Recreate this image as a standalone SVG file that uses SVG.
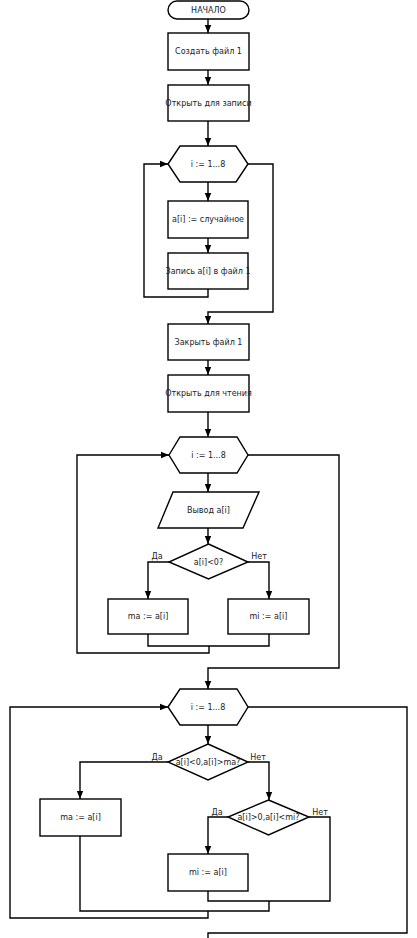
<svg xmlns="http://www.w3.org/2000/svg" width="417" height="938" viewBox="0 0 417 938">
<style>
.s{fill:#fff;stroke:#000;stroke-width:1.4}
.c{fill:none;stroke:#000;stroke-width:1.4;stroke-linejoin:miter}
.t{font-family:"DejaVu Sans",sans-serif;font-size:8px;fill:#222;text-anchor:middle;dominant-baseline:central}
.l{font-family:"DejaVu Sans",sans-serif;font-size:8px;fill:#222;text-anchor:middle}
</style>
<defs>
<marker id="a" viewBox="0 0 8 8" refX="8" refY="4" markerWidth="8" markerHeight="8" markerUnits="userSpaceOnUse" orient="auto">
<path d="M0,0.8 L8,4 L0,7.2 Z" fill="#000"/>
</marker>
</defs>
<rect width="417" height="938" fill="#fff"/>
<g id="connectors">
<path class="c" marker-end="url(#a)" d="M208,19 V33"/>
<path class="c" marker-end="url(#a)" d="M208,70 V85"/>
<path class="c" marker-end="url(#a)" d="M208,121 V146"/>
<path class="c" marker-end="url(#a)" d="M208,182 V201"/>
<path class="c" marker-end="url(#a)" d="M208,238 V253"/>
<path class="c" marker-end="url(#a)" d="M208,289 V297 H144 V164 H168"/>
<path class="c" marker-end="url(#a)" d="M248,164 H273 V312 H208 V324"/>
<path class="c" marker-end="url(#a)" d="M208,360 V375"/>
<path class="c" marker-end="url(#a)" d="M208,412 V437"/>
<path class="c" marker-end="url(#a)" d="M208,473 V492"/>
<path class="c" marker-end="url(#a)" d="M208,528 V544"/>
<path class="c" marker-end="url(#a)" d="M169,562 H148 V599"/>
<path class="c" marker-end="url(#a)" d="M248,562 H269 V599"/>
<path class="c" d="M148,634 V646 H269 V634"/>
<path class="c" marker-end="url(#a)" d="M209,646 V653 H77 V455 H169"/>
<path class="c" marker-end="url(#a)" d="M248,455 H339 V668 H208 V689"/>
<path class="c" marker-end="url(#a)" d="M208,725 V744"/>
<path class="c" marker-end="url(#a)" d="M168,762 H80 V799"/>
<path class="c" marker-end="url(#a)" d="M248,762 H269 V800"/>
<path class="c" marker-end="url(#a)" d="M228,817 H208 V854"/>
<path class="c" d="M309,817 H330 V901 H208 V891"/>
<path class="c" d="M80,836 V911 H269 V901"/>
<path class="c" marker-end="url(#a)" d="M208,911 V918 H10 V707 H168"/>
<path class="c" d="M248,707 H407 V933 H208 V938"/>
</g>
<g id="start"><rect class="s" x="168" y="1" width="81" height="18" rx="9"/><text class="t" x="208.5" y="10">НАЧАЛО</text></g>
<g id="create"><rect class="s" x="168" y="33" width="81" height="37"/><text class="t" x="208.5" y="51.5">Создать файл 1</text></g>
<g id="openw"><rect class="s" x="168" y="85" width="81" height="36"/><text class="t" x="208.5" y="103">Открыть для записи</text></g>
<g id="loop1"><path class="s" d="M168,164 L180,146 H236 L248,164 L236,182 H180 Z"/><text class="t" x="208" y="164">i := 1...8</text></g>
<g id="rand"><rect class="s" x="168" y="201" width="80" height="37"/><text class="t" x="208" y="219.5">a[i] := случайное</text></g>
<g id="write"><rect class="s" x="168" y="253" width="80" height="36"/><text class="t" x="208" y="271">Запись a[i] в файл 1</text></g>
<g id="close"><rect class="s" x="168" y="324" width="81" height="36"/><text class="t" x="208.5" y="342">Закрыть файл 1</text></g>
<g id="openr"><rect class="s" x="168" y="375" width="81" height="37"/><text class="t" x="208.5" y="393.5">Открыть для чтения</text></g>
<g id="loop2"><path class="s" d="M169,455 L180,437 H237 L248,455 L237,473 H180 Z"/><text class="t" x="208.5" y="455">i := 1...8</text></g>
<g id="output"><path class="s" d="M173,492 H259 L243,528 H158 Z"/><text class="t" x="208.5" y="510">Вывод a[i]</text></g>
<g id="cond1"><path class="s" d="M208.5,544 L248,562 L208.5,579 L169,562 Z"/><text class="t" x="208.5" y="562">a[i]&lt;0?</text></g>
<g id="ma1"><rect class="s" x="108" y="599" width="80" height="35"/><text class="t" x="148" y="616.5">ma := a[i]</text></g>
<g id="mi1"><rect class="s" x="228" y="599" width="81" height="35"/><text class="t" x="268.5" y="616.5">mi := a[i]</text></g>
<g id="loop3"><path class="s" d="M168,707 L180,689 H237 L248,707 L237,725 H180 Z"/><text class="t" x="208" y="707">i := 1...8</text></g>
<g id="cond2"><path class="s" d="M208,744 L248,762 L208,780 L168,762 Z"/><text class="t" x="208" y="762">a[i]&lt;0,a[i]&gt;ma?</text></g>
<g id="ma2"><rect class="s" x="40" y="799" width="81" height="37"/><text class="t" x="80.5" y="817.5">ma := a[i]</text></g>
<g id="cond3"><path class="s" d="M268.5,800 L309,817 L268.5,835 L228,817 Z"/><text class="t" x="268.5" y="817">a[i]&gt;0,a[i]&lt;mi?</text></g>
<g id="mi2"><rect class="s" x="168" y="854" width="80" height="37"/><text class="t" x="208" y="872.5">mi := a[i]</text></g>
<g id="labels">
<text class="l" x="157" y="559">Да</text>
<text class="l" x="259" y="559">Нет</text>
<text class="l" x="157" y="760">Да</text>
<text class="l" x="258" y="760">Нет</text>
<text class="l" x="217" y="815">Да</text>
<text class="l" x="320" y="815">Нет</text>
</g>
</svg>
